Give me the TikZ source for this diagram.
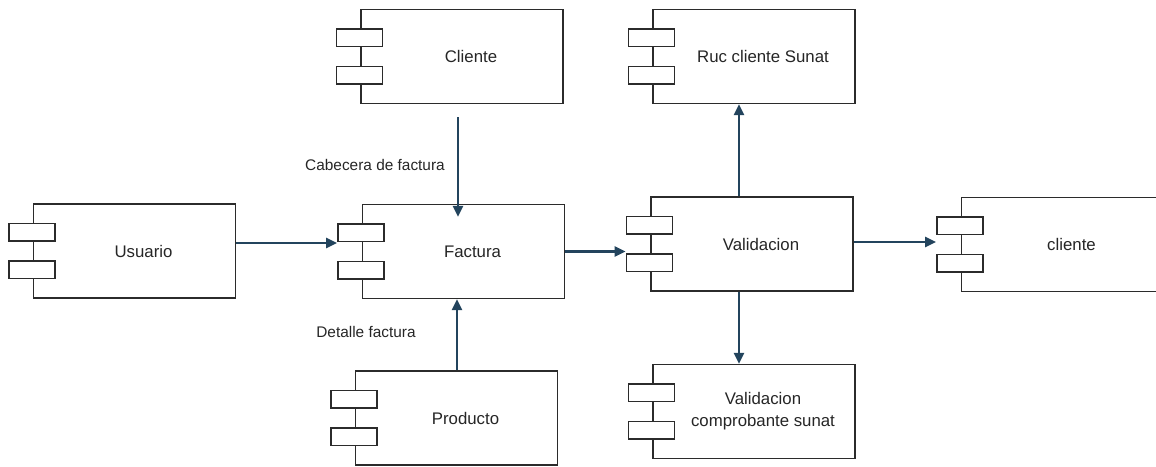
\documentclass[tikz,border=0pt]{standalone}
\usepackage{fontspec}
\setmainfont{Liberation Sans}
\usetikzlibrary{arrows.meta}
\definecolor{arrc}{HTML}{23445D}
\definecolor{boxc}{HTML}{2B2B2B}
\tikzset{
  x=1pt, y=-1pt,
  comp/.style={draw=boxc, line width=1.4pt, fill=white, minimum width=202pt, minimum height=94pt, inner sep=0pt},
  port/.style={draw=boxc, line width=1.4pt, fill=white, minimum width=46pt, minimum height=17.5pt, inner sep=0pt},
  ctext/.style={font=\fontsize{16.8}{22}\selectfont, text=black!85, align=center, inner sep=0pt},
  ltext/.style={font=\fontsize{15.4}{18}\selectfont, text=black!85, inner sep=0pt},
  arr/.style={draw=arrc, line width=2.6pt, -{Triangle[length=11pt,width=10pt]}}
}
\newcommand{\mycomp}[4]{%
  \node[comp] (#1) at (#2,#3) {};
  \node[port] (#1-p1) at ([xshift=-1pt,yshift=18.7pt]#1.west) {};
  \node[port] (#1-p2) at ([xshift=-1pt,yshift=-18.7pt]#1.west) {};
  \node[ctext] (#1-t) at ([xshift=9pt]#1.center) {#4};
}
\begin{document}
\begin{tikzpicture}
\useasboundingbox (0,0) rectangle (1156,466);
\mycomp{usu}{134.5}{251}{Usuario}
\mycomp{cli}{462}{56.5}{Cliente}
\mycomp{fac}{463.5}{251.5}{Factura}
\mycomp{pro}{456.5}{418}{Producto}
\mycomp{val}{752}{244}{Validacion}
\mycomp{ruc}{754}{56.5}{Ruc cliente Sunat}
\mycomp{vcs}{754}{411.5}{Validacion\\comprobante sunat}
\mycomp{clt}{1062.5}{244.5}{cliente}

\node[ltext] (lcab) at (375,165) {Cabecera de factura};
\node[ltext] (ldet) at (366,332) {Detalle factura};

\draw[arr] ([yshift=8pt]usu.east) -- ([yshift=8pt]usu.east -| fac-p1.west);
\draw[arr] ([xshift=-4pt,yshift=-13pt]cli.south) -- ([xshift=-4pt,yshift=-13pt]cli.south |- fac.north);
\draw[arr] ([xshift=0.5pt]pro.north) -- ([xshift=0.5pt]pro.north |- fac.south);
\draw[arr] (fac.east) -- (fac.east -| val-p1.west);
\draw[arr] ([xshift=-13pt]val.north) -- ([xshift=-13pt]val.north |- ruc.south);
\draw[arr] ([xshift=-13pt]val.south) -- ([xshift=-13pt]val.south |- vcs.north);
\draw[arr] ([yshift=2pt]val.east) -- ([yshift=2pt]val.east -| clt-p1.west);
\end{tikzpicture}
\end{document}
